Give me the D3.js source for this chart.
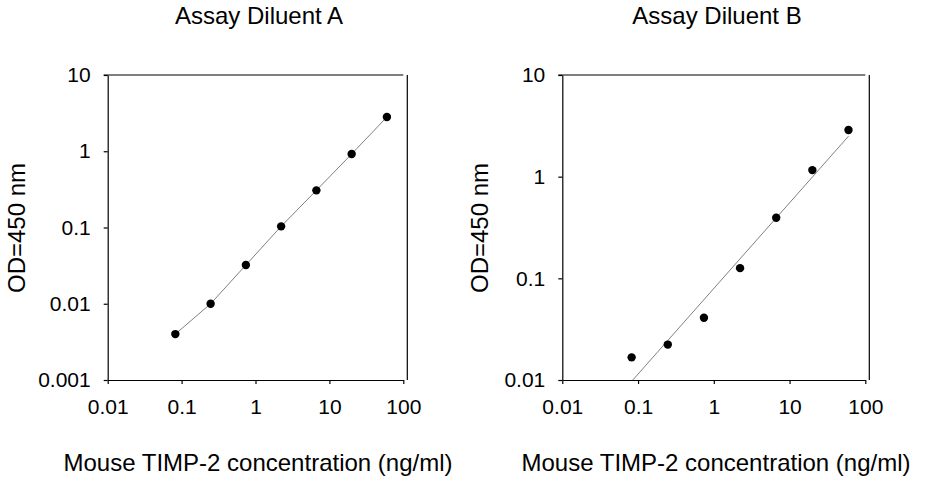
<!DOCTYPE html>
<html>
<head>
<meta charset="utf-8">
<script src="https://cdn.jsdelivr.net/npm/d3@7"></script>
<style>
  body { margin: 0; background: #fff; }
  svg { font-family: "Liberation Sans", Arial, sans-serif; }
</style>
</head>
<body>
<svg width="926" height="480"></svg>
<script>
// standard concentrations (ng/ml), 3-fold dilutions
var conc = [0.0823, 0.247, 0.741, 2.222, 6.667, 20, 60];

// OD readings
var odA = [0.0040, 0.0100, 0.0322, 0.1035, 0.307, 0.92, 2.81];
var odB = [0.0167, 0.0223, 0.041, 0.126, 0.395, 1.16, 2.88];

// fitted line of panel B (end points)
var fitBx = [0.0823, 60];
var fitBy = [0.0097, 2.50];

var xTicks = [0.01, 0.1, 1, 10, 100];
var yTicksA = [0.001, 0.01, 0.1, 1, 10];
var yTicksB = [0.01, 0.1, 1, 10];

var svg = d3.select("svg");

function drawPanel(opt) {
    var x = d3.scaleLog().domain([0.01, 100]).range([opt.left, opt.right]);
    var y = d3.scaleLog().domain(opt.yDomain).range([380, 75]);
    var fmt = function (d) { return String(d); };

    var g = svg.append("g");

    // frame (top and right)
    g.append("line")
        .attr("x1", opt.left - 4).attr("x2", opt.right)
        .attr("y1", 75).attr("y2", 75)
        .attr("stroke", "#000").attr("stroke-width", 1.2);
    g.append("line")
        .attr("x1", opt.right + 4).attr("x2", opt.right + 4)
        .attr("y1", 75).attr("y2", 380)
        .attr("stroke", "#000").attr("stroke-width", 1.2);

    var xAxis = g.append("g")
        .attr("transform", "translate(0,380)")
        .call(d3.axisBottom(x).tickValues(xTicks).tickFormat(fmt).tickSize(4).tickPadding(15).tickSizeOuter(0));
    var yAxis = g.append("g")
        .attr("transform", "translate(" + opt.left + ",0)")
        .call(d3.axisLeft(y).tickValues(opt.yTicks).tickFormat(fmt).tickSize(4).tickPadding(13).tickSizeOuter(0));

    [xAxis, yAxis].forEach(function (a) {
        a.select(".domain").attr("stroke-width", 1.2);
        a.selectAll(".tick line").attr("stroke-width", 1.2);
        a.selectAll("text").attr("font-size", 21).attr("fill", "#000")
            .attr("font-family", "Liberation Sans, Arial, sans-serif");
    });
    xAxis.selectAll("text").attr("dy", "0.71em");

    var clipId = "clip" + opt.id;
    svg.append("clipPath").attr("id", clipId)
        .append("rect")
        .attr("x", opt.left).attr("y", 75)
        .attr("width", opt.right - opt.left).attr("height", 305);

    g.append("path")
        .datum(opt.line)
        .attr("clip-path", "url(#" + clipId + ")")
        .attr("fill", "none")
        .attr("stroke", "#808080")
        .attr("stroke-width", 1)
        .attr("d", d3.line()
            .x(function (d) { return x(d[0]); })
            .y(function (d) { return y(d[1]); }));

    g.append("g")
        .selectAll("circle")
        .data(d3.zip(conc, opt.od))
        .enter()
        .append("circle")
        .attr("cx", function (d) { return x(d[0]); })
        .attr("cy", function (d) { return y(d[1]); })
        .attr("r", 4.2)
        .attr("fill", "#000");

    svg.append("text")
        .attr("x", opt.titleX).attr("y", 24)
        .attr("text-anchor", "middle")
        .attr("font-size", 24)
        .text(opt.title);

    svg.append("text")
        .attr("x", opt.labelX).attr("y", 471)
        .attr("text-anchor", "middle")
        .attr("font-size", 24)
        .text("Mouse TIMP-2 concentration (ng/ml)");

    svg.append("text")
        .attr("transform", "translate(" + opt.yLabelX + ",228) rotate(-90)")
        .attr("text-anchor", "middle")
        .attr("font-size", 24)
        .text("OD=450 nm");
}

drawPanel({
    id: "A",
    left: 107.7, right: 403.3,
    yDomain: [0.001, 10], yTicks: yTicksA,
    od: odA,
    line: d3.zip(conc, odA),
    title: "Assay Diluent A", titleX: 259,
    labelX: 258, yLabelX: 25
});

drawPanel({
    id: "B",
    left: 562.3, right: 865.3,
    yDomain: [0.01, 10], yTicks: yTicksB,
    od: odB,
    line: d3.zip(fitBx, fitBy),
    title: "Assay Diluent B", titleX: 717,
    labelX: 716, yLabelX: 488
});
</script>
</body>
</html>
